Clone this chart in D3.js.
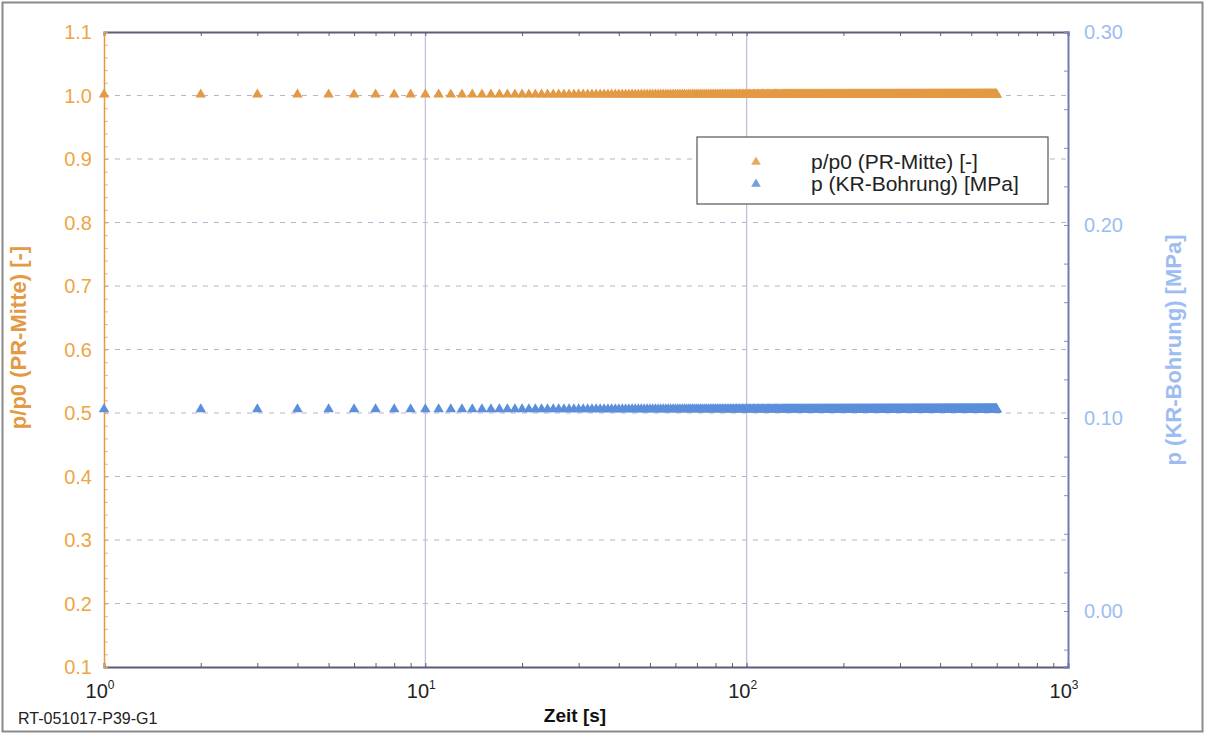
<!DOCTYPE html>
<html>
<head>
<meta charset="utf-8">
<script src="https://cdn.jsdelivr.net/npm/d3@7"></script>
<style>
  body { margin: 0; background: #fff; }
  text { font-family: Arial, "Liberation Sans", sans-serif; }
</style>
</head>
<body>
<div id="chart"></div>
<script>
// sampling times of the logger [s] (1 Hz, 1 ... 600 s)
const times = d3.range(1, 601);
// readings, both flat over the whole run
const ratioValue = 1.0;      // p/p0 (PR-Mitte) [-]
const pressureValue = 0.104; // p (KR-Bohrung) [MPa]

const seriesNames = ['p/p0 (PR-Mitte) [-]', 'p (KR-Bohrung) [MPa]'];
const xTicks = [1, 10, 100, 1000];
const leftTicks = [0.1, 0.2, 0.3, 0.4, 0.5, 0.6, 0.7, 0.8, 0.9, 1.0, 1.1];
const rightTicks = [0.00, 0.10, 0.20, 0.30];

const width = 1205, height = 737;
const margin = { top: 32, left: 104, right: 137, bottom: 70 };
const orange = '#e39a45', blue = '#5b8fdc';
const orangeText = '#eda647', blueText = '#9dbdf2';

const svg = d3.select('#chart').append('svg')
  .attr('width', width)
  .attr('height', height);

// outer frame
svg.append('rect')
  .attr('x', 2.5).attr('y', 2.5)
  .attr('width', width - 5).attr('height', height - 8)
  .attr('fill', 'none').attr('stroke', '#8a8a8a').attr('stroke-width', 2);

// scales
const x = d3.scaleLog().domain([1, 1000]).range([margin.left, width - margin.right]);
const y = d3.scaleLinear().domain([0.1, 1.1]).range([height - margin.bottom, margin.top]);
const y2 = d3.scaleLinear()
  .domain([0.30 - (y.range()[0] - y.range()[1]) / 1930, 0.30])
  .range(y.range());

const [x0, x1] = x.range();
const [yb, yt] = y.range();

// grid
svg.append('g').selectAll('line')
  .data(leftTicks.filter(d => d > 0.15 && d < 1.05)).enter().append('line')
  .attr('x1', x0).attr('x2', x1)
  .attr('y1', d => y(d)).attr('y2', d => y(d))
  .attr('stroke', '#b9b3cf').attr('stroke-width', 1)
  .attr('stroke-dasharray', '5,6');
svg.append('g').selectAll('line')
  .data([10, 100]).enter().append('line')
  .attr('x1', d => x(d)).attr('x2', d => x(d))
  .attr('y1', yt).attr('y2', yb)
  .attr('stroke', '#c7b8dc').attr('stroke-width', 1.2);

// x axes (bottom + top, ticks inside)
const minorX = [];
[1, 10, 100].forEach(dec => { for (let k = 2; k <= 9; k++) minorX.push(dec * k); });
const bottomAxis = svg.append('g')
  .attr('transform', `translate(0, ${yb})`)
  .call(d3.axisTop(x).tickValues(minorX.concat(xTicks)).tickSize(4).tickFormat(''));
const topAxis = svg.append('g')
  .attr('transform', `translate(0, ${yt})`)
  .call(d3.axisBottom(x).tickValues(minorX.concat(xTicks)).tickSize(4).tickFormat(''));
[bottomAxis, topAxis].forEach(a => {
  a.selectAll('line').attr('stroke', '#5e5a78');
  a.select('.domain').attr('stroke', '#5e5a78').attr('stroke-width', 2);
});

// x tick labels 10^n
const xl = svg.append('g').selectAll('text')
  .data(xTicks).enter().append('text')
  .attr('x', d => x(d) - 4)
  .attr('y', yb + 31)
  .attr('text-anchor', 'middle')
  .attr('font-size', 20)
  .attr('fill', '#222');
xl.append('tspan').text('10');
xl.append('tspan').text(d => Math.round(Math.log10(d)))
  .attr('font-size', 12).attr('dy', -9);

// left axis
const minorL = d3.range(10, 111, 2).map(d => d / 100);
const leftAxis = svg.append('g')
  .attr('transform', `translate(${x0}, 0)`)
  .call(d3.axisRight(y).tickValues(minorL).tickSize(4).tickFormat(''));
leftAxis.selectAll('line').attr('stroke', orange).attr('opacity', 0.7);
leftAxis.select('.domain').attr('stroke', orange).attr('stroke-width', 1.5);
svg.append('g').selectAll('text')
  .data(leftTicks).enter().append('text')
  .attr('x', x0 - 12)
  .attr('y', d => y(d) + 7)
  .attr('text-anchor', 'end')
  .attr('font-size', 20)
  .attr('fill', orangeText)
  .text(d => d.toFixed(1));

// right axis
const minorR = d3.range(-2, 31, 2).map(d => d / 100);
const rightAxis = svg.append('g')
  .attr('transform', `translate(${x1}, 0)`)
  .call(d3.axisLeft(y2).tickValues(minorR).tickSize(4).tickFormat(''));
rightAxis.selectAll('line').attr('stroke', '#7d8fc8');
rightAxis.select('.domain').attr('stroke', '#6f7cb4').attr('stroke-width', 2);
svg.append('g').selectAll('text')
  .data(rightTicks).enter().append('text')
  .attr('x', x1 + 16)
  .attr('y', d => y2(d) + 7)
  .attr('font-size', 20)
  .attr('fill', blueText)
  .text(d => d.toFixed(2));

// axis titles
svg.append('text')
  .attr('transform', `translate(26, ${(yt + yb) / 2 - 12}) rotate(-90)`)
  .attr('text-anchor', 'middle')
  .attr('font-size', 22).attr('font-weight', 'bold')
  .attr('fill', orange)
  .text('p/p0 (PR-Mitte) [-]');
svg.append('text')
  .attr('transform', `translate(1181, 350) rotate(-90)`)
  .attr('text-anchor', 'middle')
  .attr('font-size', 22).attr('font-weight', 'bold')
  .attr('fill', blueText)
  .text('p (KR-Bohrung) [MPa]');
svg.append('text')
  .attr('x', 575).attr('y', 722)
  .attr('text-anchor', 'middle')
  .attr('font-size', 19).attr('font-weight', 'bold')
  .attr('fill', '#111')
  .text('Zeit [s]');
svg.append('text')
  .attr('x', 18).attr('y', 724)
  .attr('font-size', 16)
  .attr('fill', '#222')
  .text('RT-051017-P39-G1');

// markers
const tri = d3.symbol().type(d3.symbolTriangle).size(48);
const marks = svg.append('g');
marks.selectAll('path.ratio')
  .data(times).enter().append('path')
  .attr('class', 'ratio')
  .attr('d', tri)
  .attr('transform', d => `translate(${x(d)}, ${y(ratioValue) - 1})`)
  .attr('fill', orange);
marks.selectAll('path.press')
  .data(times).enter().append('path')
  .attr('class', 'press')
  .attr('d', tri)
  .attr('transform', d => `translate(${x(d)}, ${y2(pressureValue) - 1})`)
  .attr('fill', blue);

// legend
const legend = svg.append('g').attr('transform', 'translate(697, 137)');
legend.append('rect')
  .attr('width', 351).attr('height', 67)
  .attr('fill', '#fff').attr('stroke', '#555').attr('stroke-width', 1.2);
[orange, blue].forEach((c, i) => {
  legend.append('path')
    .attr('d', d3.symbol().type(d3.symbolTriangle).size(40))
    .attr('transform', `translate(59, ${25 + i * 22})`)
    .attr('fill', c).attr('opacity', 0.85);
  legend.append('text')
    .attr('x', 114).attr('y', 32 + i * 22)
    .attr('font-size', 21).attr('fill', '#222')
    .text(seriesNames[i]);
});
</script>
</body>
</html>
